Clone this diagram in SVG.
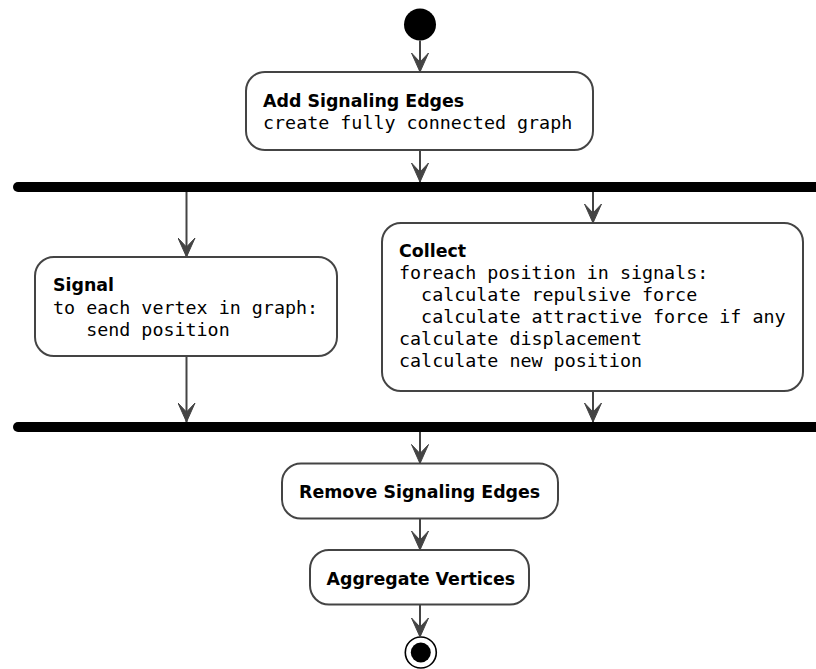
<svg xmlns="http://www.w3.org/2000/svg" width="816" height="669" viewBox="0 0 816 669">
  <defs>
    <!-- arrowhead drawn along +x so orient="auto" turns it with the line -->
    <marker id="arrow" viewBox="0 0 20 18" refX="20" refY="9" markerWidth="20" markerHeight="18" markerUnits="userSpaceOnUse" orient="auto">
      <path d="M1,0.5 L20,9 L1,17.5 L10,9 Z" fill="#444444" stroke="#444444" stroke-width="1" stroke-linejoin="miter"/>
    </marker>
    <style>
      .act { fill: #ffffff; stroke: #444444; stroke-width: 2; }
      .bar { fill: #000000; }
      .flow { fill: none; stroke: #444444; stroke-width: 2; marker-end: url(#arrow); }
      .title { font-family: "DejaVu Sans", Verdana, sans-serif; font-weight: bold; font-size: 17.4px; fill: #000000; }
      .code { font-family: "DejaVu Sans Mono", "Liberation Mono", monospace; font-size: 18.35px; fill: #000000; white-space: pre; }
    </style>
  </defs>

  <!-- initial node -->
  <g id="start">
    <circle cx="420" cy="24.5" r="16" fill="#000000"/>
  </g>

  <!-- action: add signaling edges -->
  <g id="add-edges">
    <rect class="act" x="246" y="72" width="347" height="78" rx="19" ry="19"/>
    <text class="title" x="263" y="107">Add Signaling Edges</text>
    <text class="code" x="263" y="128.5">create fully connected graph</text>
  </g>

  <!-- fork bar -->
  <g id="fork">
    <rect class="bar" x="13" y="182" width="820" height="10" rx="5" ry="5"/>
  </g>

  <!-- action: signal -->
  <g id="signal">
    <rect class="act" x="35" y="257" width="302" height="99" rx="19" ry="19"/>
    <text class="title" x="53" y="291">Signal</text>
    <text class="code" x="53" y="314">to each vertex in graph:</text>
    <text class="code" x="53" y="336" xml:space="preserve">   send position</text>
  </g>

  <!-- action: collect -->
  <g id="collect">
    <rect class="act" x="382" y="223" width="421" height="168" rx="19" ry="19"/>
    <text class="title" x="399" y="257">Collect</text>
    <text class="code" x="399" y="278.5">foreach position in signals:</text>
    <text class="code" x="399" y="300.8" xml:space="preserve">  calculate repulsive force</text>
    <text class="code" x="399" y="323.2" xml:space="preserve">  calculate attractive force if any</text>
    <text class="code" x="399" y="345">calculate displacement</text>
    <text class="code" x="399" y="367.3">calculate new position</text>
  </g>

  <!-- join bar -->
  <g id="join">
    <rect class="bar" x="13" y="422" width="820" height="10" rx="5" ry="5"/>
  </g>

  <!-- action: remove signaling edges -->
  <g id="remove-edges">
    <rect class="act" x="282" y="463.5" width="276" height="55" rx="19" ry="19"/>
    <text class="title" x="299" y="497.5">Remove Signaling Edges</text>
  </g>

  <!-- action: aggregate vertices -->
  <g id="aggregate">
    <rect class="act" x="310" y="550" width="219" height="54.5" rx="19" ry="19"/>
    <text class="title" x="326.5" y="585">Aggregate Vertices</text>
  </g>

  <!-- final node -->
  <g id="end">
    <circle cx="420.8" cy="652.5" r="15.5" fill="#ffffff" stroke="#000000" stroke-width="1.6"/>
    <circle cx="420.8" cy="652.5" r="10" fill="#000000"/>
  </g>

  <!-- control flows -->
  <g id="connectors">
    <line class="flow" x1="420" y1="40.5" x2="420" y2="72"/>
    <line class="flow" x1="420" y1="150" x2="420" y2="182"/>
    <line class="flow" x1="186.5" y1="192" x2="186.5" y2="257"/>
    <line class="flow" x1="593" y1="192" x2="593" y2="223"/>
    <line class="flow" x1="186.5" y1="356" x2="186.5" y2="422"/>
    <line class="flow" x1="593" y1="391" x2="593" y2="422"/>
    <line class="flow" x1="420" y1="432" x2="420" y2="463.5"/>
    <line class="flow" x1="420" y1="518.5" x2="420" y2="550"/>
    <line class="flow" x1="420" y1="604.5" x2="420" y2="637"/>
  </g>
</svg>
